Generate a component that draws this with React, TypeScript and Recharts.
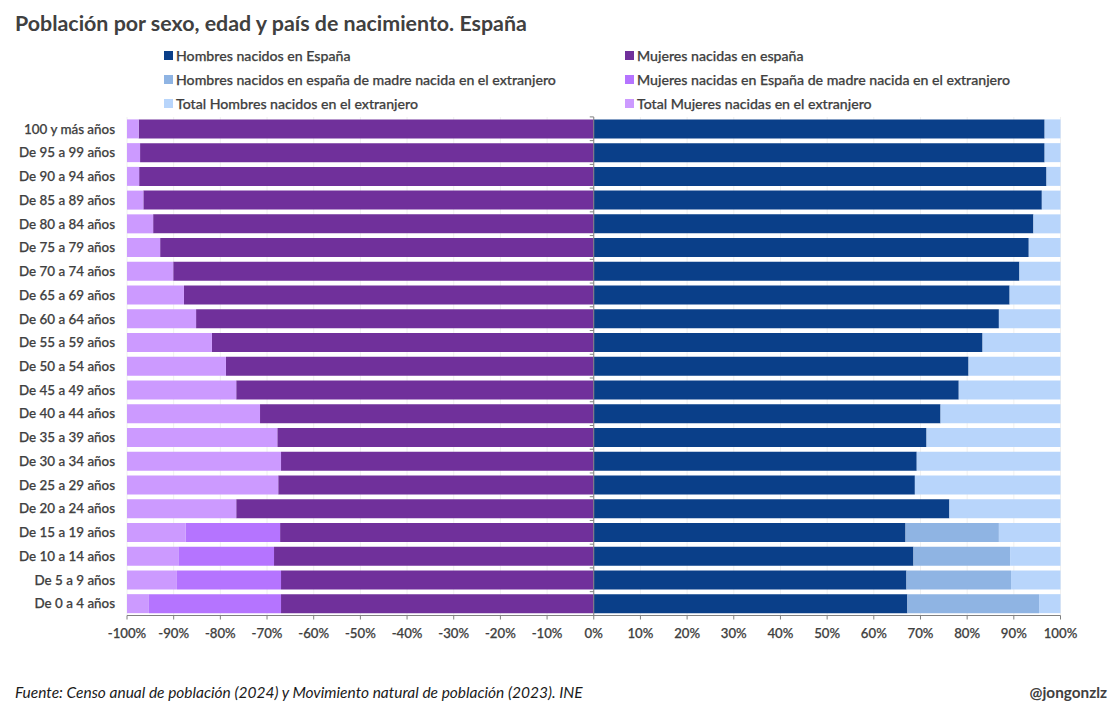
import { BarChart, Bar, XAxis, YAxis, CartesianGrid, ReferenceLine, Rectangle } from "recharts"

const ages = [
  "100 y más años", "De 95 a 99 años", "De 90 a 94 años", "De 85 a 89 años", "De 80 a 84 años", "De 75 a 79 años",
  "De 70 a 74 años", "De 65 a 69 años", "De 60 a 64 años", "De 55 a 59 años", "De 50 a 54 años", "De 45 a 49 años",
  "De 40 a 44 años", "De 35 a 39 años", "De 30 a 34 años", "De 25 a 29 años", "De 20 a 24 años", "De 15 a 19 años",
  "De 10 a 14 años", "De 5 a 9 años", "De 0 a 4 años",
]

const menSpain = [96.6, 96.6, 97, 96, 94.2, 93.2, 91.2, 89.1, 86.8, 83.3, 80.3, 78.2, 74.3, 71.3, 69.2, 68.8, 76.2, 66.8, 68.5, 67, 67.2]
const menMother = [0, 0, 0, 0, 0, 0, 0, 0, 0, 0, 0, 0, 0, 0, 0, 0, 0, 20, 20.7, 22.4, 28.2]
const menForeign = [3.4, 3.4, 3, 4, 5.8, 6.8, 8.8, 10.9, 13.2, 16.7, 19.7, 21.8, 25.7, 28.7, 30.8, 31.2, 23.8, 13.2, 10.8, 10.6, 4.6]
const womenSpain = [97.5, 97.2, 97.4, 96.5, 94.4, 92.9, 90.1, 87.8, 85.2, 81.8, 78.8, 76.6, 71.5, 67.8, 67, 67.6, 76.6, 67.2, 68.5, 67, 67]
const womenMother = [0, 0, 0, 0, 0, 0, 0, 0, 0, 0, 0, 0, 0, 0, 0, 0, 0, 20.2, 20.5, 22.3, 28.3]
const womenForeign = [2.5, 2.8, 2.6, 3.5, 5.6, 7.1, 9.9, 12.2, 14.8, 18.2, 21.2, 23.4, 28.5, 32.2, 33, 32.4, 23.4, 12.6, 11, 10.7, 4.7]

const xTicks = [-100, -90, -80, -70, -60, -50, -40, -30, -20, -10, 0, 10, 20, 30, 40, 50, 60, 70, 80, 90, 100]

const data = ages.map((age, i) => ({
  age,
  menSpain: menSpain[i],
  menMother: menMother[i],
  menForeign: menForeign[i],
  // las mujeres van a la izquierda
  womenSpain: -womenSpain[i],
  womenMother: -womenMother[i],
  womenForeign: -womenForeign[i],
}))

const legendItems = [
  { label: "Hombres nacidos en España", color: "#0A3F89", left: 164, top: 46 },
  { label: "Mujeres nacidas en españa", color: "#70309B", left: 625, top: 46 },
  { label: "Hombres nacidos en españa de madre nacida en el extranjero", color: "#8FB4E3", left: 164, top: 70 },
  { label: "Mujeres nacidas en España de madre nacida en el extranjero", color: "#B574FF", left: 625, top: 70 },
  { label: "Total Hombres nacidos en el extranjero", color: "#B8D5FB", left: 164, top: 94 },
  { label: "Total Mujeres nacidas en el extranjero", color: "#CC9AFF", left: 625, top: 94 },
]

const font = "Lato, sans-serif"
const textColor = "#404040"

// barra de hombres con la marquita del eje en cero
const MenSpainBar = (props: any) => (
  <g>
    <Rectangle {...props} />
    <line x1={props.x - 4} x2={props.x} y1={props.y - 2.5} y2={props.y - 2.5} stroke="#808080" />
  </g>
)

export default function App() {
  return (
    <div style={{ position: "absolute", left: 0, top: 0, width: 1117, height: 711, background: "white", overflow: "hidden", fontFamily: font }}>
      <div style={{ position: "absolute", left: 15, top: 10, fontSize: 21.4, lineHeight: "26px", fontWeight: 700, color: textColor, whiteSpace: "nowrap" }}>
        Población por sexo, edad y país de nacimiento. España
      </div>

      {legendItems.map((item) => (
        <div key={item.label} style={{ position: "absolute", left: item.left, top: item.top, height: 18, display: "flex", alignItems: "center", whiteSpace: "nowrap" }}>
          <span style={{ width: 9, height: 9, background: item.color, marginRight: 3 }} />
          <span style={{ fontSize: 14.15, fontWeight: 500, color: textColor, WebkitTextStroke: "0.25px #404040" }}>{item.label}</span>
        </div>
      ))}

      <BarChart
        width={1117}
        height={711}
        data={data}
        layout="vertical"
        stackOffset="sign"
        barCategoryGap={2.4}
        margin={{ top: 117, right: 56.5, bottom: 65.5, left: 0 }}
      >
        <CartesianGrid horizontal={false} stroke="#F0F0F0" />
        <XAxis
          type="number"
          domain={[-100, 100]}
          ticks={xTicks}
          interval={0}
          tickFormatter={(v) => `${v}%`}
          height={30}
          tick={{ fill: textColor, fontSize: 13.2, fontWeight: 500, fontFamily: font, stroke: textColor, strokeWidth: 0.25 }}
          stroke="#808080"
          tickSize={4}
          tickMargin={9}
        />
        <YAxis
          type="category"
          dataKey="age"
          width={127}
          interval={0}
          axisLine={false}
          tickLine={false}
          tickSize={0}
          tickMargin={12}
          tick={{ fill: textColor, fontSize: 13.4, fontWeight: 500, fontFamily: font, stroke: textColor, strokeWidth: 0.25 }}
        />
        <Bar dataKey="menSpain" stackId="a" fill="#0A3F89" shape={MenSpainBar} isAnimationActive={false} />
        <Bar dataKey="menMother" stackId="a" fill="#8FB4E3" isAnimationActive={false} />
        <Bar dataKey="menForeign" stackId="a" fill="#B8D5FB" isAnimationActive={false} />
        <Bar dataKey="womenSpain" stackId="a" fill="#70309B" isAnimationActive={false} />
        <Bar dataKey="womenMother" stackId="a" fill="#B574FF" isAnimationActive={false} />
        <Bar dataKey="womenForeign" stackId="a" fill="#CC9AFF" isAnimationActive={false} />
        <ReferenceLine x={0} stroke="#808080" />
      </BarChart>

      <div style={{ position: "absolute", left: 15, top: 683, fontSize: 15.5, lineHeight: "18px", fontStyle: "italic", color: "#1a1a1a", whiteSpace: "nowrap" }}>
        Fuente: Censo anual de población (2024) y Movimiento natural de población (2023). INE
      </div>
      <div style={{ position: "absolute", right: 10, top: 683, fontSize: 15.3, lineHeight: "18px", fontWeight: 700, color: textColor, whiteSpace: "nowrap" }}>
        @jongonzlz
      </div>
    </div>
  )
}
